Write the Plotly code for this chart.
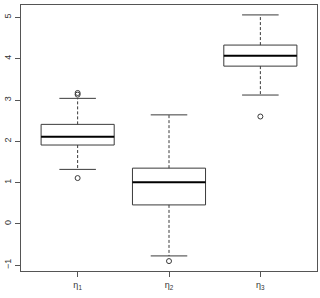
import plotly.graph_objects as go

categories = ["η<sub>1</sub>", "η<sub>2</sub>", "η<sub>3</sub>"]
lower_whisker = [1.32, -0.775, 3.12]
q1 = [1.91, 0.46, 3.82]
median = [2.11, 1.01, 4.07]
q3 = [2.41, 1.35, 4.33]
upper_whisker = [3.04, 2.64, 5.06]
outliers = [[1.11, 3.13, 3.17], [-0.90], [2.60]]
y_ticks = [-1, 0, 1, 2, 3, 4, 5]

BOXW = 0.8
CAPW = 0.4
LC = "#3a3a3a"

fig = go.Figure()
for i, cat in enumerate(categories):
    x = i + 1
    hw = BOXW / 2
    cw = CAPW / 2
    # box
    fig.add_trace(go.Scatter(x=[x - hw, x + hw, x + hw, x - hw, x - hw],
                             y=[q1[i], q1[i], q3[i], q3[i], q1[i]],
                             mode="lines", line=dict(color=LC, width=1)))
    # median
    fig.add_trace(go.Scatter(x=[x - hw, x + hw], y=[median[i], median[i]],
                             mode="lines", line=dict(color="black", width=2)))
    # whiskers
    fig.add_trace(go.Scatter(x=[x, x, None, x, x],
                             y=[q3[i], upper_whisker[i], None, q1[i], lower_whisker[i]],
                             mode="lines", line=dict(color=LC, width=1, dash="3px,2px")))
    # caps
    fig.add_trace(go.Scatter(x=[x - cw, x + cw, None, x - cw, x + cw],
                             y=[upper_whisker[i], upper_whisker[i], None,
                                lower_whisker[i], lower_whisker[i]],
                             mode="lines", line=dict(color=LC, width=1)))
    # outliers
    fig.add_trace(go.Scatter(x=[x] * len(outliers[i]), y=outliers[i], mode="markers",
                             marker=dict(symbol="circle-open", size=5,
                                         color=LC, line=dict(width=1))))

fig.update_layout(
    width=320, height=298,
    margin=dict(l=21, r=3, t=5, b=27),
    showlegend=False,
    plot_bgcolor="white", paper_bgcolor="white",
    font=dict(family="Liberation Sans, Arial, sans-serif", size=9, color="#333"),
)
fig.update_xaxes(range=[0.38, 3.62], tickvals=[1, 2, 3], ticktext=categories,
                 showgrid=False, zeroline=False, showline=True, mirror=True,
                 linecolor="#555", linewidth=1, ticks="outside", ticklen=5,
                 tickcolor="#555")
fig.update_yaxes(range=[-1.14, 5.30], tickvals=y_ticks, tickangle=-90,
                 showgrid=False, zeroline=False, showline=True, mirror=True,
                 linecolor="#555", linewidth=1, ticks="outside", ticklen=5,
                 tickcolor="#555")

fig.write_html("out.html")
